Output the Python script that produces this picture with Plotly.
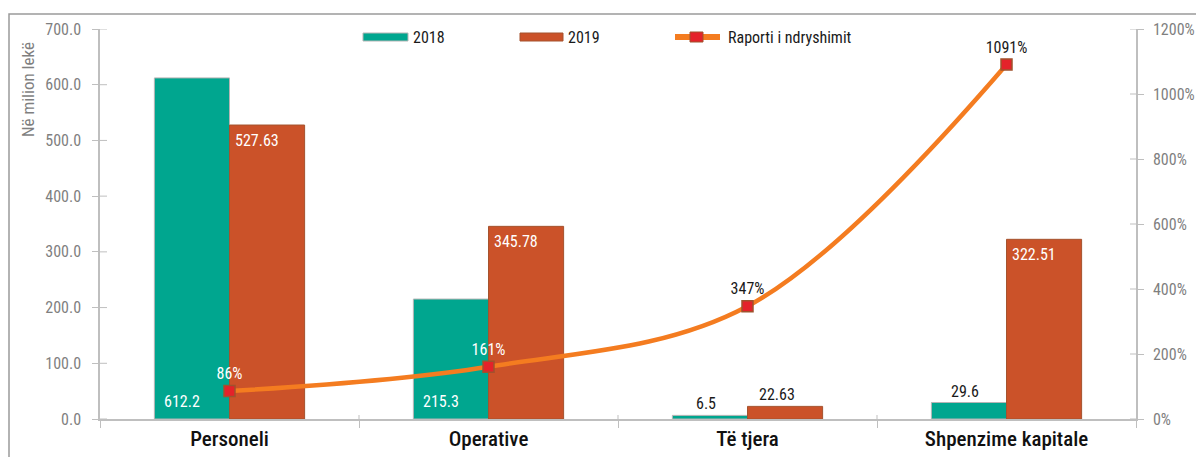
import plotly.graph_objects as go

# Expenditure categories and values (million lekë)
categories = ["Personeli", "Operative", "Të tjera", "Shpenzime kapitale"]
values_2018 = [612.2, 215.3, 6.5, 29.6]
values_2019 = [527.63, 345.78, 22.63, 322.51]
ratio_pct = [86, 161, 347, 1091]
series_names = ["2018", "2019", "Raporti i ndryshimit"]
y_ticks = [0, 100, 200, 300, 400, 500, 600, 700]
y2_ticks = [0, 200, 400, 600, 800, 1000, 1200]

GREEN = "#00A68F"
ORANGE_BAR = "#CB5229"
LINE = "#F47C20"
MARK = "#E4222A"
AXIS = "#BFBFBF"
GRAY_TXT = "#7F7F7F"
FONT = ("Roboto Condensed, Open Sans Condensed, Liberation Sans Narrow, "
        "Arial Narrow, DejaVu Sans Condensed, sans-serif")

W, H = 1196, 457
ML, MR, MT, MB = 100, 60, 29, 38
PW, PH = W - ML - MR, H - MT - MB

BAR_W = 0.29  # width of one bar in category units

fig = go.Figure()
fig.add_trace(go.Bar(
    x=categories, y=values_2018, name=series_names[0],
    marker=dict(color=GREEN, line=dict(color="#B5B5B5", width=1)),
    width=BAR_W, offset=-BAR_W, showlegend=False,
))
fig.add_trace(go.Bar(
    x=categories, y=values_2019, name=series_names[1],
    marker=dict(color=ORANGE_BAR, line=dict(color="#A5532E", width=1)),
    width=BAR_W, offset=0, showlegend=False,
))
fig.add_trace(go.Scatter(
    x=categories, y=ratio_pct, name=series_names[2], yaxis="y2",
    mode="lines+markers+text",
    line=dict(color=LINE, width=4.5, shape="spline", smoothing=1.0),
    marker=dict(symbol="square", size=11, color=MARK, line=dict(color="#A0522D", width=1.5)),
    text=[f"{v}%" for v in ratio_pct],
    textposition="top center",
    textfont=dict(family=FONT, size=16,
                  color=["white" if v < 200 else "#1A1A1A" for v in ratio_pct]),
    cliponaxis=False, showlegend=False,
))

annotations = []
# 2018 value labels
for i, v in enumerate(values_2018):
    if v > 100:
        annotations.append(dict(x=i - BAR_W / 2, y=0, xref="x", yref="y", text=str(v),
                                showarrow=False, yanchor="bottom", xshift=-10, yshift=6,
                                font=dict(family=FONT, size=16, color="white")))
    else:
        annotations.append(dict(x=i - BAR_W / 2, y=v, xref="x", yref="y", text=str(v),
                                showarrow=False, yanchor="bottom", xshift=-4, yshift=0,
                                font=dict(family=FONT, size=16, color="#1A1A1A")))
# 2019 value labels
for i, v in enumerate(values_2019):
    if v > 100:
        annotations.append(dict(x=i, y=v, xref="x", yref="y", text=str(v),
                                showarrow=False, xanchor="left", yanchor="top", xshift=3, yshift=-4,
                                font=dict(family=FONT, size=16, color="white")))
    else:
        annotations.append(dict(x=i + BAR_W / 2, y=v, xref="x", yref="y", text=str(v),
                                showarrow=False, yanchor="bottom", xshift=-8, yshift=0,
                                font=dict(family=FONT, size=16, color="#1A1A1A")))

# y-axis title
annotations.append(dict(x=-72 / PW, y=(419 - 90) / PH, xref="paper", yref="paper",
                        xanchor="center", yanchor="middle",
                        text="Në milion lekë", textangle=-90, showarrow=False,
                        font=dict(family=FONT, size=17, color=GRAY_TXT)))


def px_x(p):
    return (p - ML) / PW


def px_y(p):
    return (H - MB - p) / PH


shapes = []
# outer frame
shapes.append(dict(type="rect", xref="paper", yref="paper",
                   x0=px_x(9), x1=px_x(1210), y0=px_y(470), y1=px_y(14),
                   line=dict(color="#9A9A9A", width=1.5), fillcolor="rgba(0,0,0,0)", layer="below"))
# inner halves of crossing tick marks on both value axes
for t in y_ticks:
    shapes.append(dict(type="line", xref="x domain", yref="y", x0=0, x1=7 / PW, y0=t, y1=t,
                       line=dict(color=AXIS, width=1)))
for t in y2_ticks:
    shapes.append(dict(type="line", xref="x domain", yref="y2", x0=1 - 6 / PW, x1=1, y0=t, y1=t,
                       line=dict(color=AXIS, width=1)))
# x category boundary ticks (upper half)
for b in range(1, len(categories)):
    shapes.append(dict(type="line", xref="x", yref="paper", x0=b - 0.5, x1=b - 0.5,
                       y0=0, y1=4 / PH, line=dict(color=AXIS, width=1)))

# custom legend
legend_y = px_y(37)
shapes.append(dict(type="rect", xref="paper", yref="paper", x0=px_x(363), x1=px_x(408),
                   y0=px_y(41), y1=px_y(33), fillcolor=GREEN, line=dict(color="#B5B5B5", width=1)))
shapes.append(dict(type="rect", xref="paper", yref="paper", x0=px_x(520), x1=px_x(563),
                   y0=px_y(41), y1=px_y(33), fillcolor=ORANGE_BAR, line=dict(color="#A5532E", width=1)))
shapes.append(dict(type="line", xref="paper", yref="paper", x0=px_x(675), x1=px_x(720),
                   y0=legend_y, y1=legend_y, line=dict(color=LINE, width=6)))
shapes.append(dict(type="rect", xref="paper", yref="paper", x0=px_x(690), x1=px_x(703),
                   y0=px_y(42), y1=px_y(32), fillcolor=MARK, line=dict(color="#A0522D", width=1)))
for name, xp in zip(series_names, [411, 566, 726]):
    annotations.append(dict(x=px_x(xp), y=legend_y, xref="paper", yref="paper", text=name,
                            showarrow=False, xanchor="left", yanchor="middle",
                            font=dict(family=FONT, size=16, color="#1A1A1A")))

fig.update_layout(
    width=W, height=H,
    margin=dict(l=ML, r=MR, t=MT, b=MB, pad=0, autoexpand=False),
    paper_bgcolor="white", plot_bgcolor="white",
    barmode="overlay",
    font=dict(family=FONT),
    xaxis=dict(
        type="category", range=[-0.5, len(categories) - 0.5], automargin=False,
        showline=True, linecolor=AXIS, linewidth=1.5,
        ticks="outside", ticklen=7, tickcolor=AXIS, tickson="boundaries",
        tickfont=dict(family=FONT, size=21, color="#111111", weight=500),
        showgrid=False, zeroline=False,
    ),
    yaxis=dict(
        range=[0, 700], tickvals=y_ticks, ticktext=[f"{t:.1f}" for t in y_ticks],
        automargin=False,
        showline=True, linecolor=AXIS, linewidth=1.5,
        ticks="outside", ticklen=6, tickcolor=AXIS, ticklabelstandoff=8,
        tickfont=dict(family=FONT, size=16, color=GRAY_TXT),
        showgrid=False, zeroline=False,
    ),
    yaxis2=dict(
        overlaying="y", side="right", range=[0, 1200], tickvals=y2_ticks,
        ticktext=[f"{t}%" for t in y2_ticks], automargin=False,
        showline=True, linecolor=AXIS, linewidth=1.5,
        ticks="outside", ticklen=6, tickcolor=AXIS, ticklabelstandoff=6,
        tickfont=dict(family=FONT, size=16, color=GRAY_TXT),
        showgrid=False, zeroline=False,
    ),
    shapes=shapes,
    annotations=annotations,
)

fig.write_html("out.html")
